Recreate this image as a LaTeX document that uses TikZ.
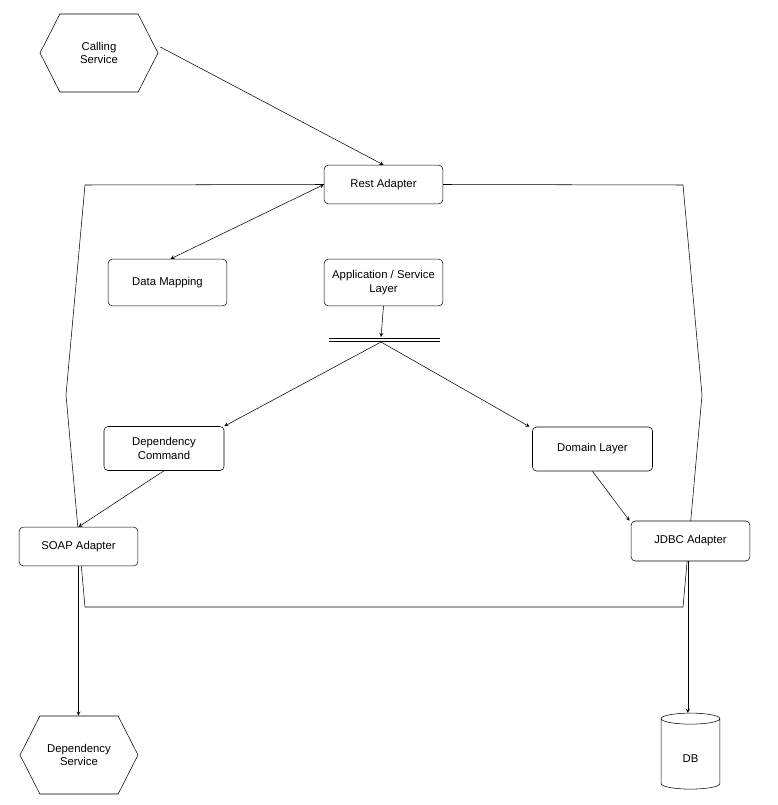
\documentclass[tikz,border=0pt]{standalone}
\usepackage{fontspec}
\setmainfont{Liberation Sans}
\usetikzlibrary{positioning,backgrounds}
\usetikzlibrary{shapes.geometric, shapes.symbols, arrows}
\tikzstyle{arrow} = [thin,->,>=stealth]
\tikzstyle{box} = [draw,thin,fill=white,rounded corners=3pt,align=center,inner sep=0pt,font=\fontsize{8.5}{10}\selectfont]
\tikzstyle{hexa} = [draw,thin,signal,signal to=west and east,signal pointer angle=126,minimum width=88.5pt,minimum height=58.5pt,inner sep=0pt,align=center,font=\fontsize{8.5}{10}\selectfont]

\begin{document}
\begin{tikzpicture}[x=0.75pt,y=-0.75pt]
					\useasboundingbox (0,0) rectangle (777,805);

					%Nodes
					\node [hexa] (Calling) at (99,53) {Calling\\Service};
					\node [box,minimum width=89pt,minimum height=29pt] (Rest) at (383.5,184.5) {Rest Adapter};
					\node [box,minimum width=89pt,minimum height=35pt] (Mapping) at (167.5,282.5) {Data Mapping};
					\node [box,minimum width=89pt,minimum height=35pt] (App) at (383.5,282.5) {Application / Service\\Layer};
					\node [box,minimum width=90pt,minimum height=33pt] (Command) at (164,448.5) {Dependency\\Command};
					\node [box,minimum width=90pt,minimum height=33pt] (Domain) at (592.5,449) {Domain Layer};
					\node [box,minimum width=89pt,minimum height=29pt] (Soap) at (78.5,546.5) {SOAP Adapter};
					\node [box,minimum width=89pt,minimum height=30pt] (Jdbc) at (690.5,541) {JDBC Adapter};
					\node [hexa] (DepService) at (79,755) {Dependency\\Service};
					\node [draw,thin,cylinder,shape border rotate=90,aspect=0.7,minimum width=44pt,minimum height=57pt,inner sep=0pt,font=\fontsize{8.5}{10}\selectfont] (DB) at (690.5,754) {\raisebox{-12pt}{DB}};

					%Outline
					\begin{pgfonlayer}{background}
					\draw[thin] (Rest.west) -- (85,185) -- (66,395) -- (85,607) -- (683,607) -- (702,395) -- (683,185) -- (Rest.east);
					\end{pgfonlayer}
					\draw[thin] (329,338) -- (440,338) (329,341) -- (440,341);

					%Lines
					\draw[arrow] ([shift={(2,-6)}]Calling.east) -- (Rest.north);
					\draw[arrow,<->] (Mapping.north) ++(3,0) -- (Rest.west);
					\draw[arrow] (App.south) -- (381,337);
					\draw[arrow] (381,342) -- (Command.north east);
					\draw[arrow] (381,342) -- ([xshift=-2pt]Domain.north west);
					\draw[arrow] (Command.south) -- (Soap.north);
					\draw[arrow] (Domain.south) -- ([xshift=-1pt]Jdbc.north west);
					\draw[arrow] (Soap.south) -- (DepService.north -| Soap.south);
					\draw[arrow] ([xshift=-2pt]Jdbc.south) -- ([xshift=-2pt]DB.top);
				\end{tikzpicture}
\end{document}
